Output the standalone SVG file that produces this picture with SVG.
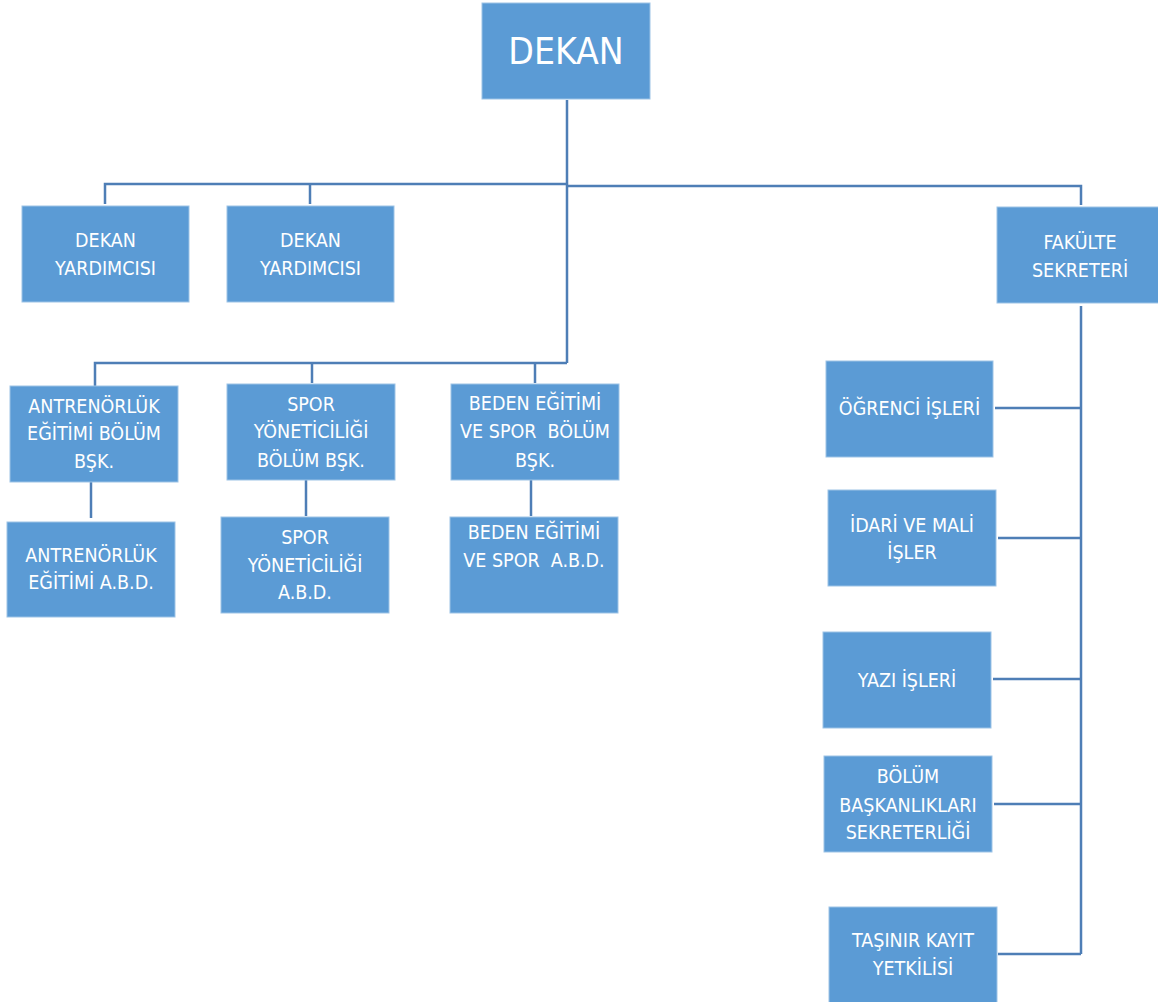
<svg xmlns="http://www.w3.org/2000/svg" width="1158" height="1002" viewBox="0 0 1158 1002">
<style>
.box{fill:#5B9BD5;stroke:#9DC3E6;stroke-width:1}
.t{fill:#ffffff;font-family:"DejaVu Sans Condensed","Liberation Sans Narrow","Liberation Sans",sans-serif;font-size:19.5px;text-anchor:middle}
.big{font-size:37px}
.c{fill:none;stroke:#4E7EB6;stroke-width:2.5}
</style>
<rect width="1158" height="1002" fill="#ffffff"/>
<g id="connectors">
<path class="c" d="M567 100V363"/>
<path class="c" d="M105 204V184H567"/>
<path class="c" d="M310 184V204"/>
<path class="c" d="M567 186H1081V205"/>
<path class="c" d="M95 386V363H567"/>
<path class="c" d="M312 362V383"/>
<path class="c" d="M535 362V383"/>
<path class="c" d="M91 482V518"/>
<path class="c" d="M306 480V516"/>
<path class="c" d="M531 480V516"/>
<path class="c" d="M1081 306V954"/>
<path class="c" d="M995 408H1081"/>
<path class="c" d="M998 538H1081"/>
<path class="c" d="M993 679H1081"/>
<path class="c" d="M994 804H1081"/>
<path class="c" d="M998 954H1081"/>
</g>
<g id="dekan"><rect class="box" x="482" y="3" width="168" height="96"/><text class="t big" x="566" y="64">DEKAN</text></g>
<g id="dy1"><rect class="box" x="22" y="206" width="167" height="96"/><text class="t" x="105.5" y="247">DEKAN</text><text class="t" x="105.5" y="275">YARDIMCISI</text></g>
<g id="dy2"><rect class="box" x="227" y="206" width="167" height="96"/><text class="t" x="310.5" y="247">DEKAN</text><text class="t" x="310.5" y="275">YARDIMCISI</text></g>
<g id="fakulte"><rect class="box" x="997" y="207" width="162" height="96"/><text class="t" x="1080" y="249">FAKÜLTE</text><text class="t" x="1080" y="277">SEKRETERİ</text></g>
<g id="ant-bsk"><rect class="box" x="10" y="386" width="168" height="96"/><text class="t" x="94" y="413">ANTRENÖRLÜK</text><text class="t" x="94" y="440">EĞİTİMİ BÖLÜM</text><text class="t" x="94" y="468">BŞK.</text></g>
<g id="ant-abd"><rect class="box" x="7" y="522" width="168" height="95"/><text class="t" x="91" y="562">ANTRENÖRLÜK</text><text class="t" x="91" y="589">EĞİTİMİ A.B.D.</text></g>
<g id="spor-bsk"><rect class="box" x="227" y="384" width="168" height="96"/><text class="t" x="311" y="411">SPOR</text><text class="t" x="311" y="438">YÖNETİCİLİĞİ</text><text class="t" x="311" y="467">BÖLÜM BŞK.</text></g>
<g id="spor-abd"><rect class="box" x="221" y="517" width="168" height="96"/><text class="t" x="305" y="544">SPOR</text><text class="t" x="305" y="572">YÖNETİCİLİĞİ</text><text class="t" x="305" y="599">A.B.D.</text></g>
<g id="beden-bsk"><rect class="box" x="451" y="384" width="168" height="96"/><text class="t" x="535" y="410">BEDEN EĞİTİMİ</text><text class="t" x="535" y="438" xml:space="preserve">VE SPOR  BÖLÜM</text><text class="t" x="535" y="467">BŞK.</text></g>
<g id="beden-abd"><rect class="box" x="450" y="517" width="168" height="96"/><text class="t" x="534" y="539">BEDEN EĞİTİMİ</text><text class="t" x="534" y="567" xml:space="preserve">VE SPOR  A.B.D.</text></g>
<g id="ogrenci"><rect class="box" x="826" y="361" width="167" height="96"/><text class="t" x="909.5" y="415">ÖĞRENCİ İŞLERİ</text></g>
<g id="idari"><rect class="box" x="828" y="490" width="168" height="96"/><text class="t" x="912" y="532">İDARİ VE MALİ</text><text class="t" x="912" y="559">İŞLER</text></g>
<g id="yazi"><rect class="box" x="823" y="632" width="168" height="96"/><text class="t" x="907" y="687">YAZI İŞLERİ</text></g>
<g id="bolum-sek"><rect class="box" x="824" y="756" width="168" height="96"/><text class="t" x="908" y="783">BÖLÜM</text><text class="t" x="908" y="812">BAŞKANLIKLARI</text><text class="t" x="908" y="839">SEKRETERLİĞİ</text></g>
<g id="tasinir"><rect class="box" x="829" y="907" width="168" height="96"/><text class="t" x="913" y="947">TAŞINIR KAYIT</text><text class="t" x="913" y="975">YETKİLİSİ</text></g>
</svg>
